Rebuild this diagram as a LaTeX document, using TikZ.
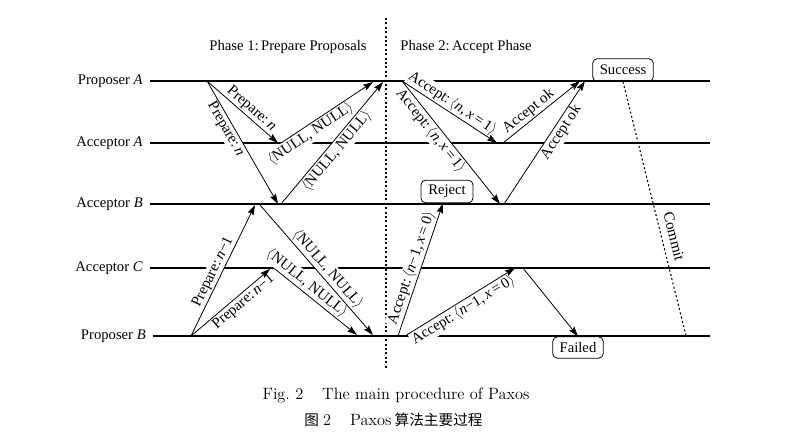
\documentclass[tikz,border=0pt]{standalone}
\usepackage{fontspec}
\usetikzlibrary{arrows.meta,calc}
\newfontfamily\tms{Liberation Serif}
\newfontfamily\cjk{Noto Sans CJK SC}
\begin{document}
\begin{tikzpicture}[x=0.75pt,y=-0.75pt,
  lane/.style={font=\tms\fontsize{11}{13}\selectfont, anchor=east, inner sep=0pt},
  laneline/.style={line width=0.8pt},
  lbl/.style={font=\tms\fontsize{11.3}{13}\selectfont, sloped, fill=white, inner sep=1pt},
  arr/.style={-{Stealth[length=7.5pt,width=4.8pt,inset=1pt]}, line width=0.6pt},
  box/.style={draw, rounded corners=3.5pt, line width=0.6pt, font=\tms\fontsize{11}{13}\selectfont, inner sep=0pt},
  dots/.style={line width=0.8pt, dash pattern=on 1.5pt off 1.8pt},
  phase/.style={font=\tms\fontsize{11}{13}\selectfont, inner sep=1pt},
  captext/.style={font=\fontsize{12.3}{15}\selectfont, inner sep=0pt},
  cjktext/.style={font=\fontsize{12.3}{15}\selectfont, inner sep=0pt}
]
\useasboundingbox (0,0) rectangle (800,446);

% lanes
\node[lane] (PA) at (143,81) {Proposer \textit{A}};
\node[lane] (AA) at (143,143) {Acceptor \textit{A}};
\node[lane] (AB) at (143,204) {Acceptor \textit{B}};
\node[lane] (AC) at (143,268) {Acceptor \textit{C}};
\node[lane] (PB) at (146,336) {Proposer \textit{B}};
\coordinate (PAe) at (710,81);
\coordinate (AAe) at (710,143);
\coordinate (ABe) at (710,204);
\coordinate (ACe) at (710,268);
\coordinate (PBe) at (710,336);
\draw[laneline] ([xshift=5pt]PA.east) -- (PAe);
\draw[laneline] ([xshift=5pt]AA.east) -- (AAe);
\draw[laneline] ([xshift=5pt]AB.east) -- (ABe);
\draw[laneline] ([xshift=5pt]AC.east) -- (ACe);
\draw[laneline] ([xshift=5pt]PB.east) -- (PBe);

% phase separator
\coordinate (dtop) at (386,18);
\coordinate (dbot) at (386,368);
\draw[dots] (dtop) -- (dbot);
\node[phase] (ph1) at (288,47) {Phase 1:\,Prepare Proposals};
\node[phase] (ph2) at (466,47) {Phase 2:\,Accept Phase};

% boxes
\node[box, minimum width=45.5pt, minimum height=17pt] (succ) at (623,70) {Success};
\node[box, minimum width=39pt, minimum height=17pt] (rej) at (447,191.5) {Reject};
\node[box, minimum width=38pt, minimum height=16pt] (fail) at (578,347.5) {Failed};

% endpoints, phase 1
\coordinate (p1) at (207,81);
\coordinate (a1) at (278,143);
\coordinate (a1s) at (281,143);
\coordinate (b1) at (278,204);
\coordinate (b1s) at (281,204);
\coordinate (p1e1) at (373,82);
\coordinate (p1e2) at (383,82);
\coordinate (q1) at (191,336);
\coordinate (b2) at (255,205);
\coordinate (b2s) at (260,205);
\coordinate (c1) at (270,269);
\coordinate (c1s) at (275,269);
\coordinate (q1e1) at (373,335);
\coordinate (q1e2) at (357,335);
% endpoints, phase 2
\coordinate (p2) at (402,81);
\coordinate (a2) at (497,143);
\coordinate (a2s) at (503,143);
\coordinate (b3) at (500,204);
\coordinate (b3s) at (504,204);
\coordinate (p2e1) at (580,81);
\coordinate (p2e2) at (585,81);
\coordinate (q2) at (398,336);
\coordinate (q2b) at (405,336);
\coordinate (c2) at (515,268);
\coordinate (c2s) at (523,268);
\coordinate (cmt) at (686,336);

% labels (white backing cuts the lane lines)
\path (p1) -- (a1) node[lbl, pos=0.55, above] {Prepare:\,\textit{n}};
\path (p1) -- (b1) node[lbl, pos=0.36, below] {Prepare:\,\textit{n}};
\path (a1s) -- (p1e1) node[lbl, pos=0.27, below] {$\langle$NULL, NULL$\rangle$};
\path (b1s) -- (p1e2) node[lbl, pos=0.48, below] {$\langle$NULL, NULL$\rangle$};
\path (q1) -- (b2) node[lbl, pos=0.46, above] {Prepare:\,\textit{n}−1};
\path (q1) -- (c1) node[lbl, pos=0.6, below] {Prepare:\,\textit{n}−1};
\path (b2s) -- (q1e1) node[lbl, pos=0.54, above] {$\langle$NULL, NULL$\rangle$};
\path (c1s) -- (q1e2) node[lbl, pos=0.32, above] {$\langle$NULL, NULL$\rangle$};
\path (p2) -- (a2) node[lbl, pos=0.48, above] {Accept:\,$\langle$\textit{n},\,\textit{x}\,=\,1$\rangle$};
\path (p2) -- (b3) node[lbl, pos=0.36, below] {Accept:\,$\langle$\textit{n},\,\textit{x}\,=\,1$\rangle$};
\path (a2s) -- (p2e1) node[lbl, pos=0.4, above] {Accept ok};
\path (b3s) -- (p2e2) node[lbl, pos=0.62, below] {Accept ok};
\path (q2) -- ($(rej.south)+(-4,0)$) node[lbl, pos=0.49, above] {Accept:\,$\langle$\textit{n}−1,\,\textit{x}\,=\,0$\rangle$};
\path (q2b) -- (c2) node[lbl, pos=0.49, below] {Accept:\,$\langle$\textit{n}−1,\,\textit{x}\,=\,0$\rangle$};

% arrows
\draw[arr] (p1) -- (a1);
\draw[arr] (p1) -- (b1);
\draw[arr] (a1s) -- (p1e1);
\draw[arr] (b1s) -- (p1e2);
\draw[arr] (q1) -- (b2);
\draw[arr] (q1) -- (c1);
\draw[arr] (b2s) -- (q1e1);
\draw[arr] (c1s) -- (q1e2);
\draw[arr] (p2) -- (a2);
\draw[arr] (p2) -- (b3);
\draw[arr] (a2s) -- (p2e1);
\draw[arr] (b3s) -- (p2e2);
\draw[arr] (q2) -- ($(rej.south)+(-4,0)$);
\draw[arr] (q2b) -- (c2);
\draw[arr] (c2s) -- (fail.north);

% commit
\draw[dots] (succ.south) -- (cmt) node[lbl, pos=0.62, above=4pt, fill=none] {Commit};

% caption
\node[captext] (cap1) at (396,395) {Fig.\ 2\hspace{1.15em}The main procedure of Paxos};
\node[cjktext] (cap2) at (393.5,420) {{\cjk\fontsize{11}{13}\selectfont 图}\hspace{0.25em}2\hspace{1.15em}Paxos\hspace{0.2em}{\cjk\fontsize{11}{13}\selectfont 算法主要过程}};
\end{tikzpicture}
\end{document}
